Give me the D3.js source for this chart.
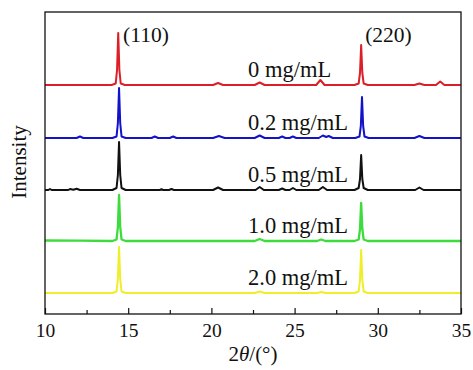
<!DOCTYPE html>
<html>
<head>
<meta charset="utf-8">
<script src="https://cdn.jsdelivr.net/npm/d3@7"></script>
<style>
  body { margin: 0; background: #fff; }
  text { font-family: "Liberation Serif", "Times New Roman", serif; fill: #111; }
</style>
</head>
<body>
<script>
// XRD patterns, 2theta (deg) vs intensity (a.u., above each trace's own baseline)
var labels = ["0 mg/mL", "0.2 mg/mL", "0.5 mg/mL", "1.0 mg/mL", "2.0 mg/mL"];
var colors = ["#dc1e28", "#1212c8", "#111111", "#3ddc3d", "#eeee2a"];
var offsets = [229, 176, 124, 73, 21];
var xTicks = [10, 15, 20, 25, 30, 35];
var minorTicks = [12.5, 17.5, 22.5, 27.5, 32.5];
var peakLabels = [["(110)", 14.45], ["(220)", 29.0]];

var red = [[10,0],[14.0,0],[14.25,1.5],[14.33,15],[14.4,52],[14.47,15],[14.55,1.5],[14.8,0],
  [20.1,0],[20.4,2],[20.7,0],[22.6,0],[22.9,2.5],[23.2,0],[26.3,0],[26.55,5],[26.8,0],
  [28.6,0],[28.85,1.5],[28.93,12],[29.0,40],[29.07,12],[29.15,1.5],[29.4,0],
  [32.2,0],[32.5,1.5],[32.8,0],[33.5,0],[33.75,3.5],[34.0,0],[35,0]];
var blue = [[10,0],[11.9,0],[12.1,1.5],[12.3,0],[14.05,0],[14.3,1.5],[14.38,15],[14.45,50],[14.52,15],[14.6,1.5],[14.85,0],
  [16.4,0],[16.6,1.5],[16.8,0],[17.5,0],[17.7,1.5],[17.9,0],[20.1,0],[20.45,2],[20.8,0],
  [22.6,0],[22.9,2.5],[23.2,0],[24.05,0],[24.25,1.5],[24.45,0],[24.7,0],[24.9,1.5],[25.1,0],
  [26.45,0],[26.7,2.5],[26.9,1],[27.05,2],[27.3,0],
  [28.65,0],[28.9,1.5],[28.98,12],[29.05,41],[29.12,12],[29.2,1.5],[29.45,0],
  [32.2,0],[32.5,2],[32.8,0],[35,0]];
var black = [[10,0],[10.2,0],[10.3,1],[10.4,0],[11.4,0],[11.5,1],[11.7,0.3],[11.9,1.2],[12.1,0],
  [14.05,0],[14.3,2],[14.38,15],[14.45,48],[14.52,15],[14.6,2],[14.85,0],
  [16.9,0],[17.0,0.8],[17.1,0],[17.45,0],[17.6,1],[17.75,0],[20.1,0],[20.4,2.5],[20.7,0],
  [22.65,0],[22.9,3],[23.15,0],[24.05,0],[24.25,1.5],[24.45,0],[24.7,0],[24.9,2],[25.1,0],
  [26.45,0],[26.7,3],[26.95,0],
  [28.6,0],[28.85,2],[28.93,11],[29.0,35],[29.07,11],[29.15,2],[29.4,0],
  [32.25,0],[32.5,2.5],[32.75,0],[35,0]];
var green = [[10,0.5],[12.0,0.3],[14.05,0],[14.3,1.5],[14.38,14],[14.45,46],[14.52,14],[14.6,1.5],[14.85,0],
  [22.6,0],[22.9,2],[23.2,0],[26.35,0],[26.6,1.5],[26.85,0],
  [28.6,0],[28.85,1.5],[28.93,12],[29.0,38],[29.07,12],[29.15,1.5],[29.4,0],[35,0]];
var yellow = [[10,0],[14.05,0],[14.3,1.5],[14.38,14],[14.45,46],[14.52,14],[14.6,1.5],[14.85,0],
  [22.6,0],[22.9,1.5],[23.2,0],[26.35,0],[26.6,1],[26.85,0],
  [28.6,0],[28.85,1.5],[28.93,13],[29.0,43],[29.07,13],[29.15,1.5],[29.4,0],[35,0]];
var series = [red, blue, black, green, yellow];

var W = 473, H = 370;
var m = { left: 45, right: 12, top: 12, bottom: 56 };

var svg = d3.select("body").append("svg")
  .attr("width", W).attr("height", H);

var x = d3.scaleLinear().domain([10, 35]).range([m.left, W - m.right]);
var y = d3.scaleLinear().domain([0, 302]).range([H - m.bottom, m.top]);

var line = d3.line()
  .x(function(d) { return x(d[0]); })
  .y(function(d) { return d[1]; });

series.forEach(function(s, i) {
  var pts = s.map(function(d) { return [d[0], y(d[1] + offsets[i])]; });
  svg.append("path")
    .attr("d", line(pts))
    .attr("fill", "none")
    .attr("stroke", colors[i])
    .attr("stroke-width", i == 3 ? 2.3 : 2)
    .attr("stroke-linejoin", "round");
  svg.append("text")
    .attr("x", 248)
    .attr("y", y(offsets[i]) - 8)
    .attr("font-size", "22.5px")
    .text(labels[i]);
});

peakLabels.forEach(function(p) {
  svg.append("text")
    .attr("x", x(p[1]) + 4)
    .attr("y", 42)
    .attr("font-size", "21.5px")
    .text(p[0]);
});

// frame
svg.append("rect")
  .attr("x", m.left).attr("y", m.top)
  .attr("width", W - m.right - m.left).attr("height", H - m.bottom - m.top)
  .attr("fill", "none").attr("stroke", "#111").attr("stroke-width", 1.3);

// bottom axis, ticks pointing inward
var ax = svg.append("g").attr("transform", "translate(0," + (H - m.bottom) + ")");
ax.call(d3.axisBottom(x).tickValues(xTicks).tickSize(-6).tickFormat(d3.format("d")));
ax.append("g").call(d3.axisBottom(x).tickValues(minorTicks).tickSize(-4).tickFormat(""));
ax.selectAll(".domain").remove();
ax.selectAll("line").attr("stroke", "#111").attr("stroke-width", 1.2);
ax.selectAll("text")
  .attr("dy", null).attr("y", 23)
  .attr("font-size", "19.5px")
  .attr("font-family", "Liberation Serif, serif")
  .attr("fill", "#111");

var xl = svg.append("text")
  .attr("x", 253).attr("y", 361)
  .attr("text-anchor", "middle")
  .attr("font-size", "21px");
xl.append("tspan").text("2");
xl.append("tspan").attr("font-style", "italic").text("θ");
xl.append("tspan").text("/(°)");

svg.append("text")
  .attr("transform", "translate(26,162) rotate(-90)")
  .attr("text-anchor", "middle")
  .attr("font-size", "21px")
  .text("Intensity");
</script>
</body>
</html>
